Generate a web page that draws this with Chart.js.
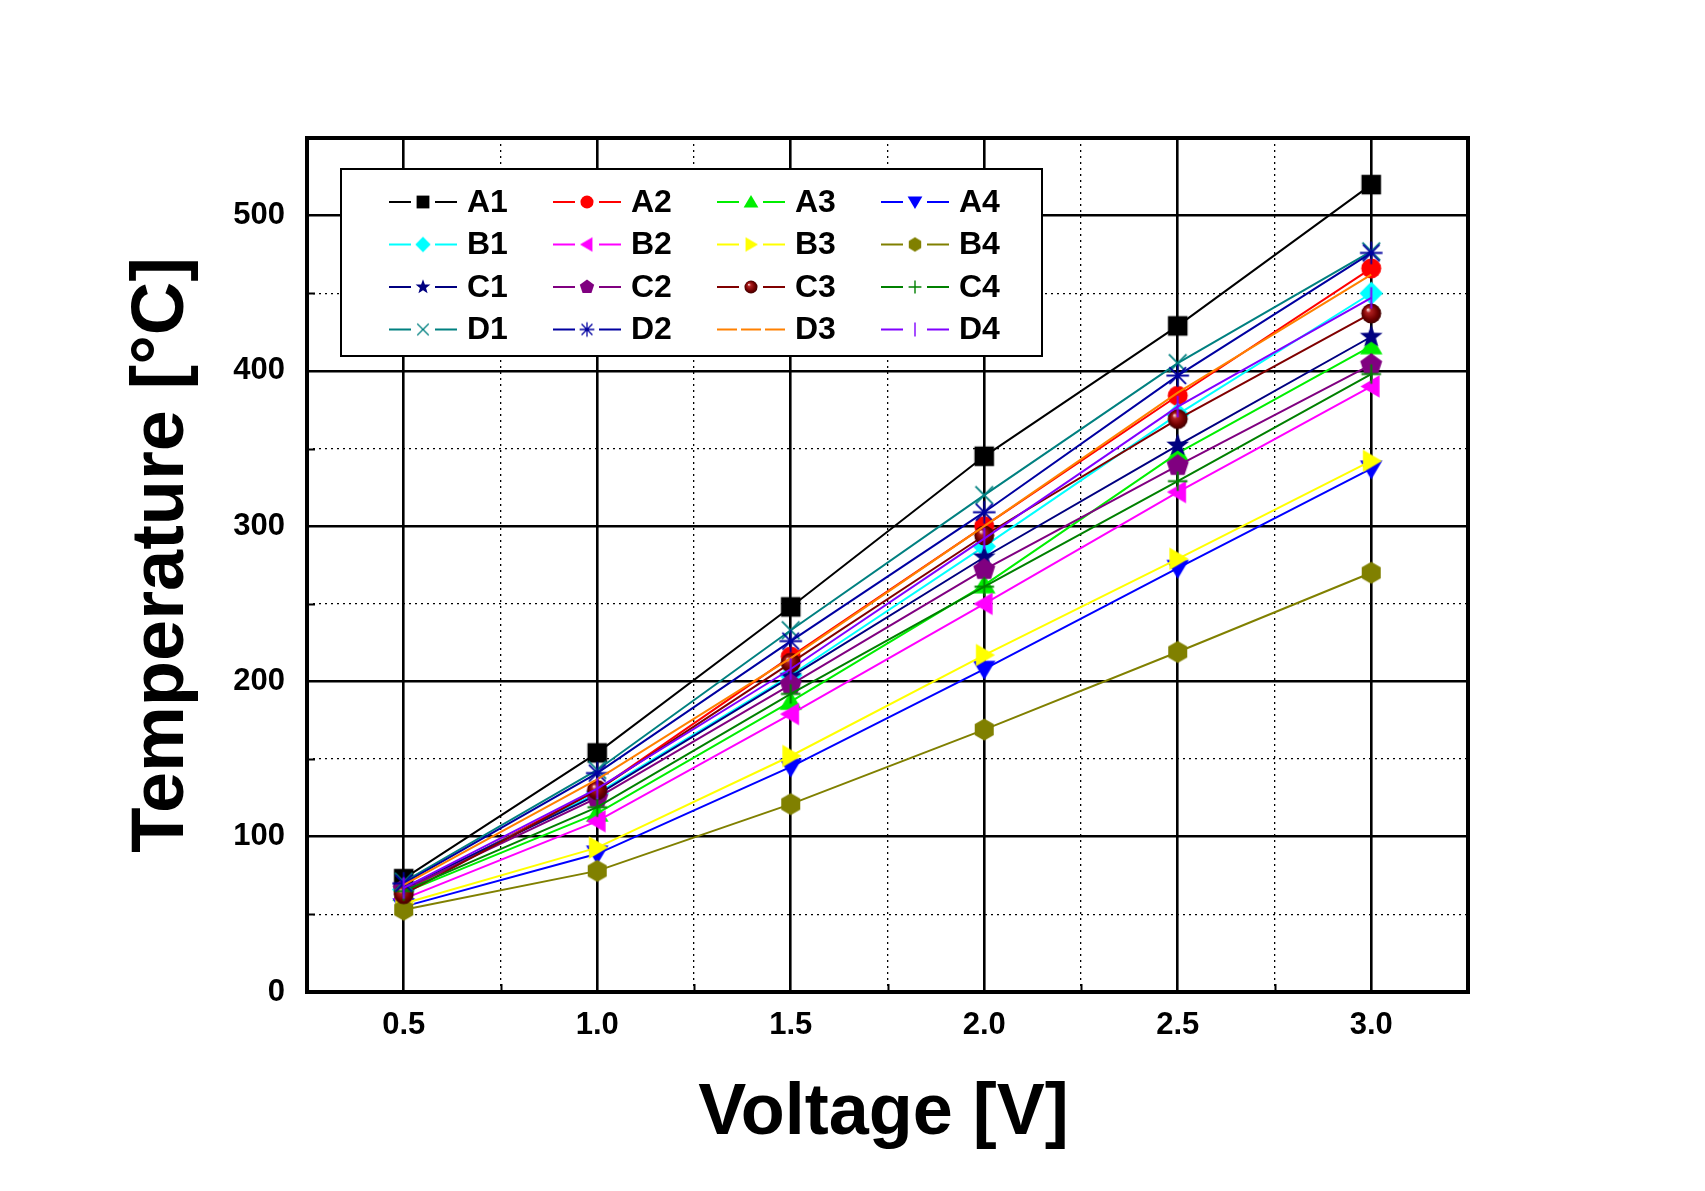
<!DOCTYPE html>
<html>
<head>
<meta charset="utf-8">
<script src="https://cdn.jsdelivr.net/npm/chart.js@4.4.0/dist/chart.umd.min.js"></script>
<style>
html,body{margin:0;padding:0;background:#ffffff;}
canvas{display:block;}
</style>
</head>
<body>
<canvas id="c" width="1705" height="1191" style="width:1705px;height:1191px"></canvas>
<script>
// ---------------- data ----------------
const voltages = [0.5, 1.0, 1.5, 2.0, 2.5, 3.0];
const seriesNames = ['A1','A2','A3','A4','B1','B2','B3','B4','C1','C2','C3','C4','D1','D2','D3','D4'];
const A1 = [73, 154, 248, 345, 429, 520];
const A2 = [65, 130, 216, 300, 384, 466];
const A3 = [64, 115, 187, 262, 347, 416];
const A4 = [55, 89, 145, 208, 273, 337];
const B1 = [66, 128, 204, 287, 372, 450];
const B2 = [60, 110, 179, 250, 322, 390];
const B3 = [57, 93, 152, 217, 279, 342];
const B4 = [53, 78, 121, 169, 219, 270];
const C1 = [67, 127, 203, 280, 352, 422];
const C2 = [66, 125, 198, 272, 339, 404];
const C3 = [63, 130, 212, 294, 369, 437];
const C4 = [65, 119, 192, 261, 329, 398];
const D1 = [71, 143, 233, 320, 405, 477];
const D2 = [70, 141, 226, 309, 397, 476];
const D3 = [69, 137, 215, 300, 386, 462];
const D4 = [67, 131, 208, 292, 377, 447];
const seriesValues = [A1,A2,A3,A4,B1,B2,B3,B4,C1,C2,C3,C4,D1,D2,D3,D4];

const xMajorTicks = [0.5, 1.0, 1.5, 2.0, 2.5, 3.0];
const xMinorTicks = [0.75, 1.25, 1.75, 2.25, 2.75];
const yMajorTicks = [0, 100, 200, 300, 400, 500];
const yMinorTicks = [50, 150, 250, 350, 450];
const xTitle = 'Voltage [V]';
const yTitle = 'Temperature [°C]';

// ---------------- styles ----------------
const seriesColors = ['#000000','#FF0000','#00EE00','#0000FF','#00FFFF','#FF00FF','#FFFF00','#808000',
                      '#000080','#800080','#800000','#008000','#008080','#0000A0','#FF8000','#8000FF'];
const seriesShapes = ['square','circle','triUp','triDown','diamond','triLeft','triRight','hexagon',
                      'star','pentagon','sphere','plus','cross','asterisk','none','vbar'];

const FONT = '"Liberation Sans", Arial, Helvetica, sans-serif';

function makeMarker(shape, color, r) {
  const size = Math.ceil(2 * r * 1.35 + 6);
  const c = document.createElement('canvas');
  c.width = size; c.height = size;
  const g = c.getContext('2d');
  g.translate(size / 2, size / 2);
  g.fillStyle = color; g.strokeStyle = color; g.lineCap = 'butt';
  const poly = pts => { g.beginPath(); pts.forEach(([x, y], i) => i ? g.lineTo(x, y) : g.moveTo(x, y)); g.closePath(); g.fill(); };
  const reg = (n, rad, rot) => { const p = []; for (let i = 0; i < n; i++) { const a = rot + i * 2 * Math.PI / n; p.push([rad * Math.cos(a), rad * Math.sin(a)]); } return p; };
  const lw = Math.max(1.4, r * 0.2);
  switch (shape) {
    case 'square': g.fillRect(-r, -r, 2 * r, 2 * r); break;
    case 'circle': g.beginPath(); g.arc(0, 0, r * 1.02, 0, 2 * Math.PI); g.fill(); break;
    case 'triUp': poly([[0, -r * 1.1], [r * 1.15, r * 0.85], [-r * 1.15, r * 0.85]]); break;
    case 'triDown': poly([[0, r * 1.1], [r * 1.15, -r * 0.85], [-r * 1.15, -r * 0.85]]); break;
    case 'triLeft': poly([[-r * 1.1, 0], [r * 0.85, -r * 1.15], [r * 0.85, r * 1.15]]); break;
    case 'triRight': poly([[r * 1.1, 0], [-r * 0.85, -r * 1.15], [-r * 0.85, r * 1.15]]); break;
    case 'diamond': poly([[0, -r * 1.2], [r * 1.2, 0], [0, r * 1.2], [-r * 1.2, 0]]); break;
    case 'hexagon': poly(reg(6, r * 1.12, -Math.PI / 2)); break;
    case 'pentagon': poly(reg(5, r * 1.18, -Math.PI / 2)); break;
    case 'star': {
      const p = [];
      for (let i = 0; i < 10; i++) { const a = -Math.PI / 2 + i * Math.PI / 5; const rr = i % 2 ? r * 0.5 : r * 1.22; p.push([rr * Math.cos(a), rr * Math.sin(a)]); }
      poly(p); break;
    }
    case 'sphere': {
      const gr = g.createRadialGradient(-r * 0.35, -r * 0.4, r * 0.05, 0, 0, r * 1.02);
      gr.addColorStop(0, '#f6d0d0'); gr.addColorStop(0.22, '#b02020'); gr.addColorStop(0.7, '#700000'); gr.addColorStop(1, '#400000');
      g.fillStyle = gr; g.beginPath(); g.arc(0, 0, r * 1.02, 0, 2 * Math.PI); g.fill(); break;
    }
    case 'plus': g.lineWidth = lw; g.beginPath(); g.moveTo(-r, 0); g.lineTo(r, 0); g.moveTo(0, -r); g.lineTo(0, r); g.stroke(); break;
    case 'cross': { const d = r * 0.9; g.lineWidth = lw * 0.9; g.beginPath(); g.moveTo(-d, -d); g.lineTo(d, d); g.moveTo(d, -d); g.lineTo(-d, d); g.stroke(); break; }
    case 'asterisk': {
      const d = r * 0.85, q = r * 1.15; g.lineWidth = lw * 0.9; g.beginPath();
      g.moveTo(-d, -d); g.lineTo(d, d); g.moveTo(d, -d); g.lineTo(-d, d);
      g.moveTo(0, -q); g.lineTo(0, q); g.moveTo(-q, 0); g.lineTo(q, 0); g.stroke(); break;
    }
    case 'vbar': g.lineWidth = lw; g.beginPath(); g.moveTo(0, -r * 1.1); g.lineTo(0, r * 1.1); g.stroke(); break;
    default: break;
  }
  return c;
}

const plotMarkers = seriesShapes.map((s, i) => makeMarker(s, seriesColors[i], 9.8));
const legendMarkers = seriesShapes.map((s, i) => makeMarker(s, seriesColors[i], 6.4));

const near = (a, b) => Math.abs(a - b) < 1e-6;
const isMajorX = v => xMajorTicks.some(t => near(t, v));
const isMajorY = v => yMajorTicks.some(t => near(t, v));

const datasets = seriesNames.map((name, i) => ({
  label: name,
  data: voltages.map((v, k) => ({ x: v, y: seriesValues[i][k] })),
  borderColor: seriesColors[i],
  backgroundColor: seriesColors[i],
  borderWidth: 2,
  tension: 0,
  fill: false,
  pointStyle: seriesShapes[i] === 'none' ? false : plotMarkers[i],
  pointRadius: seriesShapes[i] === 'none' ? 0 : 9,
  pointHoverRadius: seriesShapes[i] === 'none' ? 0 : 9,
  order: seriesNames.length - i
}));

// ---------------- decorations plugin ----------------
const decor = {
  id: 'decor',
  afterDraw(chart) {
    const ctx = chart.ctx;
    const { left, right, top, bottom } = chart.chartArea;
    const xs = chart.scales.x, ys = chart.scales.y;
    ctx.save();
    // minor inward ticks
    ctx.strokeStyle = '#000'; ctx.lineWidth = 2;
    ctx.beginPath();
    xMinorTicks.forEach(v => { const x = Math.round(xs.getPixelForValue(v)) + 0.5; ctx.moveTo(x, bottom); ctx.lineTo(x, bottom - 8); });
    yMinorTicks.forEach(v => { const y = Math.round(ys.getPixelForValue(v)) + 0.5; ctx.moveTo(left, y); ctx.lineTo(left + 8, y); });
    ctx.stroke();
    // frame
    ctx.lineWidth = 4;
    ctx.strokeRect(left, top, right - left, bottom - top);

    // legend
    const lx = 341, ly = 169, lw = 701, lh = 187;
    ctx.fillStyle = '#fff';
    ctx.fillRect(lx, ly, lw, lh);
    ctx.lineWidth = 2; ctx.strokeStyle = '#000';
    ctx.strokeRect(lx, ly, lw, lh);
    const cols = [389, 553, 717, 881];
    const rows = [202, 244.5, 287, 329.5];
    seriesNames.forEach((name, i) => {
      const x0 = cols[i % 4], y = rows[Math.floor(i / 4)];
      ctx.strokeStyle = seriesColors[i]; ctx.lineWidth = 2.2;
      ctx.beginPath();
      if (seriesShapes[i] === 'none') {
        ctx.moveTo(x0, y); ctx.lineTo(x0 + 20, y);
        ctx.moveTo(x0 + 24, y); ctx.lineTo(x0 + 44, y);
        ctx.moveTo(x0 + 48, y); ctx.lineTo(x0 + 68, y);
      } else {
        ctx.moveTo(x0, y); ctx.lineTo(x0 + 22, y);
        ctx.moveTo(x0 + 46, y); ctx.lineTo(x0 + 68, y);
      }
      ctx.stroke();
      const m = legendMarkers[i];
      if (seriesShapes[i] !== 'none') ctx.drawImage(m, x0 + 34 - m.width / 2, y - m.height / 2);
      ctx.fillStyle = '#000';
      ctx.font = 'bold 32px ' + FONT;
      ctx.textAlign = 'left'; ctx.textBaseline = 'middle';
      ctx.fillText(name, x0 + 78, y + 1);
    });

    // axis titles
    ctx.fillStyle = '#000';
    ctx.font = 'bold 72px ' + FONT;
    ctx.textAlign = 'center'; ctx.textBaseline = 'alphabetic';
    ctx.fillText(xTitle, (left + right) / 2 - 4, 1134);
    ctx.save();
    ctx.translate(183, 555);
    ctx.rotate(-Math.PI / 2);
    ctx.font = 'bold 74px ' + FONT;
    ctx.fillText(yTitle, 0, 0);
    ctx.restore();
    ctx.restore();
  }
};

Chart.defaults.font.family = FONT;
Chart.defaults.color = '#000';

new Chart(document.getElementById('c').getContext('2d'), {
  type: 'line',
  data: { datasets },
  plugins: [decor],
  options: {
    responsive: false,
    devicePixelRatio: 1,
    animation: false,
    events: [],
    layout: { padding: { left: 0, top: 138, right: 237, bottom: 0 } },
    plugins: { legend: { display: false }, tooltip: { enabled: false }, title: { display: false } },
    scales: {
      x: {
        type: 'linear', position: 'bottom', min: 0.25, max: 3.25,
        afterBuildTicks: s => { s.ticks = xMajorTicks.concat(xMinorTicks).sort((a, b) => a - b).map(v => ({ value: v })); },
        afterFit: s => { s.height = 199; },
        ticks: {
          autoSkip: false, maxRotation: 0, minRotation: 0, padding: 15, color: '#000',
          font: { size: 31, weight: 'bold' },
          callback: v => isMajorX(v) ? Number(v).toFixed(1) : ''
        },
        grid: {
          color: '#000', drawTicks: false,
          lineWidth: c => (c.tick && isMajorX(c.tick.value)) ? 2.6 : 1.3
        },
        border: { display: false, dash: c => (c.tick && !isMajorX(c.tick.value)) ? [2, 4] : [] }
      },
      y: {
        type: 'linear', position: 'left', min: 0, max: 550,
        afterBuildTicks: s => { s.ticks = yMajorTicks.concat(yMinorTicks).sort((a, b) => a - b).map(v => ({ value: v })); },
        afterFit: s => { s.width = 307; },
        ticks: {
          autoSkip: false, padding: 22, color: '#000',
          font: { size: 31, weight: 'bold' },
          callback: v => isMajorY(v) ? String(v) : ''
        },
        grid: {
          color: '#000', drawTicks: false,
          lineWidth: c => (c.tick && isMajorY(c.tick.value)) ? 2.6 : 1.3
        },
        border: { display: false, dash: c => (c.tick && !isMajorY(c.tick.value)) ? [2, 4] : [] }
      }
    }
  }
});
</script>
</body>
</html>
